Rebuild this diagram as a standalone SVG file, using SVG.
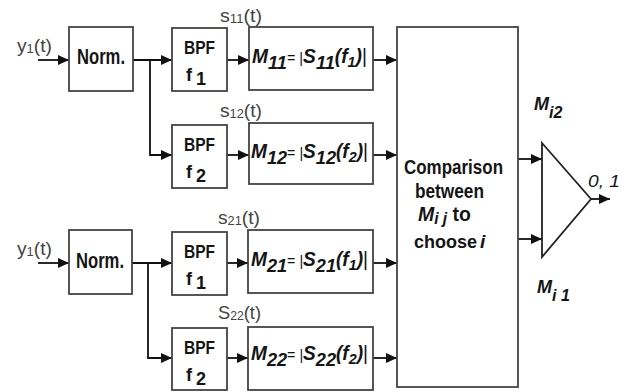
<svg xmlns="http://www.w3.org/2000/svg" width="627" height="392" viewBox="0 0 627 392">
<style>
.box{fill:#fff;stroke:#444;stroke-width:1.8}
.ln{fill:none;stroke:#111;stroke-width:1.8}
.t{font-family:"Liberation Sans",Arial,sans-serif;fill:#151515}
.lbl{font-family:"Liberation Sans",Arial,sans-serif;fill:#444;font-size:18px}
.b{font-weight:bold}
.i{font-style:italic}
</style>
<defs>
<marker id="ah" markerUnits="userSpaceOnUse" markerWidth="11" markerHeight="10" refX="11" refY="5" orient="auto">
<path d="M0,0 L11,5 L0,10 z" fill="#111"/>
</marker>
</defs>
<rect width="627" height="392" fill="#fff"/>
<g id="connectors">
<path class="ln" d="M38,60 H69" marker-end="url(#ah)"/>
<path class="ln" d="M133,60 H172" marker-end="url(#ah)"/>
<path class="ln" d="M150,60 V155 H172" marker-end="url(#ah)"/>
<path class="ln" d="M227,60 H249" marker-end="url(#ah)"/>
<path class="ln" d="M227,155 H249" marker-end="url(#ah)"/>
<path class="ln" d="M373,60 H397" marker-end="url(#ah)"/>
<path class="ln" d="M373,155 H397" marker-end="url(#ah)"/>
<path class="ln" d="M38,263 H69" marker-end="url(#ah)"/>
<path class="ln" d="M132,263 H172" marker-end="url(#ah)"/>
<path class="ln" d="M148,263 V358 H172" marker-end="url(#ah)"/>
<path class="ln" d="M227,263 H248" marker-end="url(#ah)"/>
<path class="ln" d="M227,358 H248" marker-end="url(#ah)"/>
<path class="ln" d="M373,263 H397" marker-end="url(#ah)"/>
<path class="ln" d="M373,358 H397" marker-end="url(#ah)"/>
<path class="ln" d="M518,159 H542" marker-end="url(#ah)"/>
<path class="ln" d="M518,239 H542" marker-end="url(#ah)"/>
<path class="ln" d="M591,199 H610" marker-end="url(#ah)"/>
</g>
<text class="lbl" x="17" y="52" textLength="35" lengthAdjust="spacingAndGlyphs">y<tspan font-size="12" dy="1">1</tspan><tspan dy="-1">(t)</tspan></text>
<text class="lbl" x="17" y="255" textLength="35" lengthAdjust="spacingAndGlyphs">y<tspan font-size="12" dy="1">1</tspan><tspan dy="-1">(t)</tspan></text>
<text class="lbl" x="220" y="22" textLength="42" lengthAdjust="spacingAndGlyphs">s<tspan font-size="12" dy="1">11</tspan><tspan dy="-1">(t)</tspan></text>
<text class="lbl" x="220" y="117" textLength="42" lengthAdjust="spacingAndGlyphs">s<tspan font-size="12" dy="1">12</tspan><tspan dy="-1">(t)</tspan></text>
<text class="lbl" x="218" y="224" textLength="42" lengthAdjust="spacingAndGlyphs">s<tspan font-size="12" dy="1">21</tspan><tspan dy="-1">(t)</tspan></text>
<text class="lbl" x="218" y="319" textLength="43" lengthAdjust="spacingAndGlyphs">S<tspan font-size="12" dy="1">22</tspan><tspan dy="-1">(t)</tspan></text>
<g id="norm1"><rect class="box" x="69" y="27" width="64" height="64"/><text class="t b" x="77" y="64" font-size="22" textLength="48" lengthAdjust="spacingAndGlyphs">Norm.</text></g>
<g id="norm2"><rect class="box" x="69" y="230" width="63" height="64"/><text class="t b" x="76" y="268" font-size="22" textLength="48" lengthAdjust="spacingAndGlyphs">Norm.</text></g>
<g id="bpf11"><rect class="box" x="172" y="28" width="55" height="63"/><text class="t b" x="184" y="54" font-size="19" textLength="31" lengthAdjust="spacingAndGlyphs">BPF</text><text class="t b" x="186" y="81" font-size="18">f<tspan x="196" dy="4">1</tspan></text></g>
<g id="bpf12"><rect class="box" x="172" y="125" width="55" height="63"/><text class="t b" x="184" y="151" font-size="19" textLength="31" lengthAdjust="spacingAndGlyphs">BPF</text><text class="t b" x="186" y="178" font-size="18">f<tspan x="196" dy="4">2</tspan></text></g>
<g id="bpf21"><rect class="box" x="172" y="232" width="55" height="63"/><text class="t b" x="184" y="258" font-size="19" textLength="31" lengthAdjust="spacingAndGlyphs">BPF</text><text class="t b" x="186" y="285" font-size="18">f<tspan x="196" dy="4">1</tspan></text></g>
<g id="bpf22"><rect class="box" x="172" y="328" width="55" height="62"/><text class="t b" x="184" y="354" font-size="19" textLength="31" lengthAdjust="spacingAndGlyphs">BPF</text><text class="t b" x="186" y="381" font-size="18">f<tspan x="196" dy="4">2</tspan></text></g>
<g id="m11"><rect class="box" x="249" y="27" width="124" height="63"/><text class="t" x="252" y="63" font-size="20" textLength="115" lengthAdjust="spacingAndGlyphs"><tspan class="i b">M</tspan><tspan class="i b" font-size="19" dy="6">11</tspan><tspan font-size="15" dy="-6">= |</tspan><tspan class="i b">S</tspan><tspan class="i b" font-size="19" dy="6">11</tspan><tspan class="i b" dy="-6">(f</tspan><tspan class="i b" font-size="15" dy="4">1</tspan><tspan class="i b" dy="-4">)</tspan>|</text></g>
<g id="m12"><rect class="box" x="249" y="123" width="124" height="61"/><text class="t" x="251" y="158" font-size="20" textLength="117" lengthAdjust="spacingAndGlyphs"><tspan class="i b">M</tspan><tspan class="i b" font-size="19" dy="6">12</tspan><tspan font-size="15" dy="-6">= |</tspan><tspan class="i b">S</tspan><tspan class="i b" font-size="19" dy="6">12</tspan><tspan class="i b" dy="-6">(f</tspan><tspan class="i b" font-size="15" dy="4">2</tspan><tspan class="i b" dy="-4">)</tspan>|</text></g>
<g id="m21"><rect class="box" x="248" y="230" width="125" height="63"/><text class="t" x="251" y="266" font-size="20" textLength="117" lengthAdjust="spacingAndGlyphs"><tspan class="i b">M</tspan><tspan class="i b" font-size="19" dy="6">21</tspan><tspan font-size="15" dy="-6">= |</tspan><tspan class="i b">S</tspan><tspan class="i b" font-size="19" dy="6">21</tspan><tspan class="i b" dy="-6">(f</tspan><tspan class="i b" font-size="15" dy="4">1</tspan><tspan class="i b" dy="-4">)</tspan>|</text></g>
<g id="m22"><rect class="box" x="248" y="327" width="125" height="63"/><text class="t" x="251" y="360" font-size="20" textLength="117" lengthAdjust="spacingAndGlyphs"><tspan class="i b">M</tspan><tspan class="i b" font-size="19" dy="6">22</tspan><tspan font-size="15" dy="-6">= |</tspan><tspan class="i b">S</tspan><tspan class="i b" font-size="19" dy="6">22</tspan><tspan class="i b" dy="-6">(f</tspan><tspan class="i b" font-size="15" dy="4">2</tspan><tspan class="i b" dy="-4">)</tspan>|</text></g>
<g id="comparison"><rect class="box" x="397" y="27" width="121" height="360"/>
<text class="t b" x="404" y="174" font-size="20" textLength="99" lengthAdjust="spacingAndGlyphs">Comparison</text>
<text class="t b" x="415" y="198" font-size="20" textLength="69" lengthAdjust="spacingAndGlyphs">between</text>
<text class="t b" x="418" y="221" font-size="20" textLength="53" lengthAdjust="spacingAndGlyphs"><tspan class="i">M</tspan><tspan class="i" font-size="16" dy="3">i j</tspan><tspan dy="-3"> to</tspan></text>
<text class="t b" x="414" y="248" font-size="18">choose</text>
<text class="t b i" x="480" y="248" font-size="19">i</text>
</g>
<g id="comparator"><path d="M542,143 L591,199 L542,257 Z" fill="#fff" stroke="#222" stroke-width="1.8"/></g>
<text class="t b i" x="534" y="110" font-size="18">M<tspan font-size="16" dy="8">i2</tspan></text>
<text class="t b i" x="537" y="293" font-size="18">M<tspan font-size="16" dy="8">i 1</tspan></text>
<text class="t i" x="588" y="187" font-size="17" textLength="32" lengthAdjust="spacingAndGlyphs">0, 1</text>
</svg>
